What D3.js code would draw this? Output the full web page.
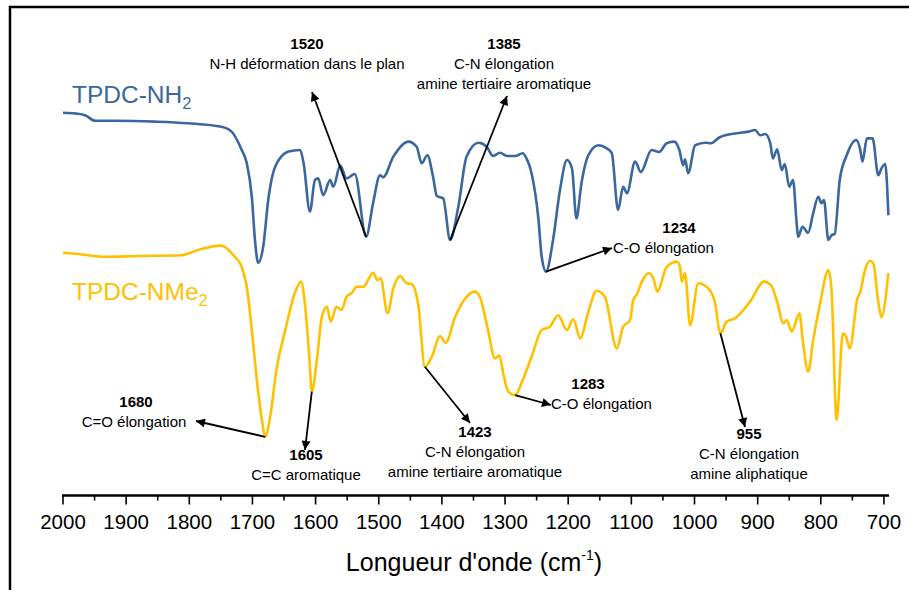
<!DOCTYPE html>
<html><head><meta charset="utf-8">
<script src="https://cdn.jsdelivr.net/npm/d3@7"></script>
<style>
html,body{margin:0;padding:0;background:#fff;}
svg{display:block;font-family:"Liberation Sans",Arial,sans-serif;}
</style></head>
<body>
<svg id="chart" width="909" height="590"></svg>
<script>
// Wavenumbers (cm-1) and relative transmittance readings
const nh2Wave = [2000,1979,1965,1949,1918,1854,1802,1749,1733,1717,1709,1701,1696,1691,1683,1675,1664,1643,1625,1619,1609,1601,1596,1588,1577,1572,1561,1551,1538,1520,1509,1498,1493,1477,1453,1440,1432,1423,1414,1408,1398,1387,1374,1361,1342,1329,1319,1308,1297,1284,1272,1266,1258,1247,1242,1235,1224,1213,1202,1194,1187,1179,1168,1152,1139,1131,1121,1113,1107,1094,1085,1068,1056,1044,1032,1024,1018,1015,1010,999,982,974,960,933,915,904,896,888,880,876,869,862,857,850,844,838,836,829,820,812,804,799,795,788,783,778,770,759,744,738,734,727,718,709,704,698,693];
const nh2Trans = [96.8,96.6,96.2,94.8,94.8,94.6,94.2,93.3,92.1,87.5,84.2,75.8,65,59.3,63.3,75,83.3,87.1,87.5,84.2,72.1,80,80.4,76.2,80,78.3,83.6,80.4,81.5,65.8,74.2,81.2,80.7,85.8,89.6,88.3,84.2,86.2,80.8,76,75.4,65,73.3,85.8,89.3,88.3,86,86.8,86,86,86.7,85.4,81.7,70,60.8,57.1,65,77.5,85,82.9,70.4,79.2,86.2,88.7,87.9,86.7,72.5,78.3,76.7,84.6,82,87.5,87,89.2,89.6,87.5,83.7,85.2,81.7,88.7,89.3,89.2,90.7,91.7,92.1,92.5,91.2,91.5,89.2,85.4,87.7,82.5,84,78.3,80,68.7,65.8,68.3,66.8,71.7,75.8,74.2,75,65,66.2,66.5,80,86.2,90,87.9,84.6,90.4,90.4,81.2,82.9,84,71.2];
const nme2Wave = [2000,1976,1934,1881,1812,1786,1751,1744,1728,1717,1709,1701,1693,1685,1680,1672,1662,1648,1633,1623,1617,1610,1606,1598,1590,1582,1576,1567,1559,1551,1543,1535,1524,1517,1509,1502,1497,1486,1477,1466,1456,1448,1437,1427,1416,1403,1394,1379,1361,1348,1340,1327,1316,1309,1303,1295,1284,1274,1258,1242,1229,1216,1202,1192,1181,1168,1155,1142,1123,1113,1102,1097,1091,1083,1072,1065,1059,1044,1028,1023,1020,1015,1007,994,978,968,959,949,936,912,890,878,870,859,854,846,834,828,820,812,801,788,783,775,765,760,754,742,738,730,722,717,709,704,693];
const nme2Trans = [61.8,61.5,60.8,61,61.2,62.5,63.6,63.3,60.8,58.3,53.3,42.5,30,20,15.8,20.8,32.5,42.5,51.7,54.6,49.2,35.8,27.1,35,45.8,48.3,44.6,48.3,47.5,50.8,51.7,53.3,53.3,55,56.8,55,55.4,46.7,52.9,56,54.2,54,48.3,33.3,35.8,41,39.3,45.8,50.8,52.1,50.8,42.5,35.4,36.2,31.7,27.1,26.2,29.2,35.8,42.5,43.3,46.2,42.5,45.2,40.4,47.1,52.3,50.8,37.9,43.3,45,50,51.5,54.7,56.7,55.4,52.1,58.3,59.6,58.3,54.6,56.7,43.7,54.2,52.9,49.6,41.7,44.6,45.4,49.6,54.6,53.5,50,44.2,45,42.1,46.7,39.2,32.1,40,49.2,57.5,52.5,20,41.7,40.8,37.9,50.4,51.7,57.5,59.8,59.2,49.6,45.7,56.7];
const majorTicks = [2000,1900,1800,1700,1600,1500,1400,1300,1200,1100,1000,900,800,700];
const minorTicks = [1950,1850,1750,1650,1550,1450,1350,1250,1150,1050,950,850,750];
const seriesNames = ["TPDC-NH", "TPDC-NMe"];
const seriesSub = ["2", "2"];
const axisTitle = "Longueur d'onde (cm";
const annWave = [1520, 1385, 1234, 1680, 1605, 1423, 1283, 955];
const annSeries = [0, 0, 0, 1, 1, 1, 1, 1];
const annNum = ["1520","1385","1234","1680","1605","1423","1283","955"];
const annText = [["N-H déformation dans le plan"],["C-N élongation","amine tertiaire aromatique"],["C-O élongation"],["C=O élongation"],["C=C aromatique"],["C-N élongation","amine tertiaire aromatique"],["C-O élongation"],["C-N élongation","amine aliphatique"]];

// layout (pixels)
const annLayout = [
  {ex:312, ey:92,  tx:307, ty:49},
  {ex:507, ey:96,  tx:504, ty:49},
  {ex:612, ey:248, tx:679, ty:233, anchorLine:"start", lx:613, ly:253},
  {ex:196, ey:421, tx:136, ty:407, lx:134, ly:427},
  {ex:305, ey:450, tx:306, ty:460},
  {ex:470, ey:423, tx:475, ty:437},
  {ex:551, ey:405, tx:588, ty:389, lx:551, ly:409, anchorLine:"start"},
  {ex:745, ey:427, tx:749, ty:439}
];
const colors = ["#3A679D", "#FFC000"];

const svg = d3.select("#chart");
const x = d3.scaleLinear().domain([2000, 692]).range([63, 889]);
const y = d3.scaleLinear().domain([0, 100]).range([500, 100]);

// frame
svg.append("rect").attr("x",10).attr("y",7).attr("width",920).attr("height",600)
  .attr("fill","none").attr("stroke","#000").attr("stroke-width",2.5);

const series = [
  nh2Wave.map((w,i)=>({w, t:nh2Trans[i]})),
  nme2Wave.map((w,i)=>({w, t:nme2Trans[i]}))
];
const line = d3.line().x(d=>x(d.w)).y(d=>y(d.t)).curve(d3.curveMonotoneX);
series.forEach((s,i)=>{
  svg.append("path").datum(s).attr("d", line).attr("fill","none")
    .attr("stroke", colors[i]).attr("stroke-width", 2.6).attr("stroke-linejoin","round");
});

// series labels
const labPos = [{x:72,y:103},{x:72,y:300}];
seriesNames.forEach((n,i)=>{
  const t = svg.append("text").attr("x",labPos[i].x).attr("y",labPos[i].y)
    .attr("fill",colors[i]).attr("font-size",24.5).text(n);
  t.append("tspan").attr("font-size",16.5).attr("dy",6).text(seriesSub[i]);
});

// axis
const axisY = 495.5;
const axis = svg.append("g");
axis.append("line").attr("x1",x(2000)-1).attr("x2",x(692)).attr("y1",axisY).attr("y2",axisY)
  .attr("stroke","#000").attr("stroke-width",2.5);
axis.selectAll(".maj").data(majorTicks).enter().append("line")
  .attr("x1",d=>x(d)).attr("x2",d=>x(d)).attr("y1",axisY).attr("y2",axisY+9)
  .attr("stroke","#000").attr("stroke-width",1.6);
axis.selectAll(".min").data(minorTicks).enter().append("line")
  .attr("x1",d=>x(d)).attr("x2",d=>x(d)).attr("y1",axisY).attr("y2",axisY+5)
  .attr("stroke","#000").attr("stroke-width",1.6);
axis.selectAll(".lab").data(majorTicks).enter().append("text")
  .attr("x",d=>x(d)).attr("y",529).attr("text-anchor","middle")
  .attr("font-size",20.5).attr("fill","#000").text(d=>d);
const at = svg.append("text").attr("x",474).attr("y",571).attr("text-anchor","middle")
  .attr("font-size",25).attr("fill","#000").text(axisTitle);
at.append("tspan").attr("font-size",14).attr("dy",-11).text("-1");
at.append("tspan").attr("dy",11).text(")");

// annotations
const defs = svg.append("defs");
defs.append("marker").attr("id","arr").attr("viewBox","0 0 10 10").attr("refX",10).attr("refY",5)
  .attr("markerWidth",10).attr("markerHeight",9).attr("markerUnits","userSpaceOnUse").attr("orient","auto")
  .append("path").attr("d","M0,0 L10,5 L0,10 z").attr("fill","#000");

const serTrans = [nh2Trans, nme2Trans];
const serWave = [nh2Wave, nme2Wave];
annWave.forEach((w,i)=>{
  const s = annSeries[i];
  // nearest reading of the series to the annotated wavenumber
  let bi = 0, bd = 1e9;
  serWave[s].forEach((v,j)=>{ if (Math.abs(v-w)<bd){bd=Math.abs(v-w);bi=j;} });
  const px = x(serWave[s][bi]), py = y(serTrans[s][bi]);
  const L = annLayout[i];
  svg.append("line").attr("x1",px).attr("y1",py).attr("x2",L.ex).attr("y2",L.ey)
    .attr("stroke","#000").attr("stroke-width",1.8).attr("marker-end","url(#arr)");
  svg.append("text").attr("x",L.tx).attr("y",L.ty).attr("text-anchor","middle")
    .attr("font-size",15).attr("font-weight","bold").text(annNum[i]);
  annText[i].forEach((tl,k)=>{
    const lx = L.lx !== undefined ? L.lx : L.tx;
    const ly = (L.ly !== undefined ? L.ly : L.ty + 20) + k*20;
    svg.append("text").attr("x",lx).attr("y",ly)
      .attr("text-anchor", L.anchorLine || "middle")
      .attr("font-size",15).text(tl);
  });
});
</script>
</body></html>
